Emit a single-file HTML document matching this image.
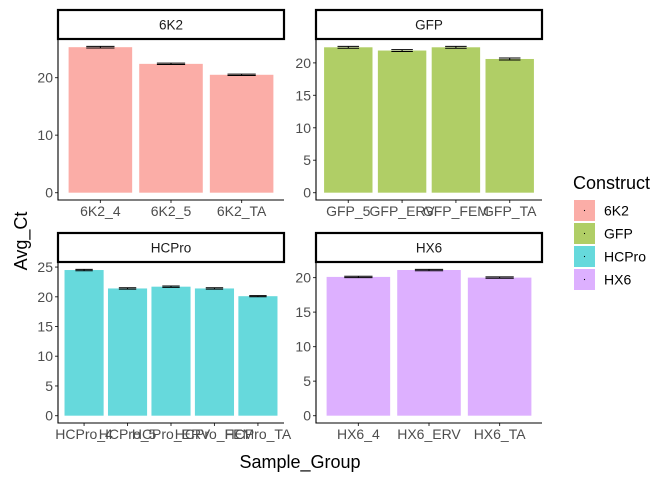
<!DOCTYPE html>
<html><head><meta charset="utf-8"><style>
body{margin:0;background:#fff;}
svg text{font-family:"Liberation Sans",Arial,sans-serif;}
</style></head><body>
<svg id="c" width="672" height="480" xmlns="http://www.w3.org/2000/svg"></svg>
<script>
const panelNames=["6K2","GFP","HCPro","HX6"];
const cats6K2=["6K2_4","6K2_5","6K2_TA"];
const vals6K2=[25.3,22.4,20.5];
const errs6K2=[0.15,0.12,0.12];
const catsGFP=["GFP_5","GFP_ERV","GFP_FEM","GFP_TA"];
const valsGFP=[22.4,21.9,22.4,20.6];
const errsGFP=[0.15,0.15,0.15,0.15];
const catsHCPro=["HCPro_4","HCPro_5","HCPro_ERV","HCPro_FEM","HCPro_TA"];
const valsHCPro=[24.5,21.4,21.7,21.4,20.1];
const errsHCPro=[0.12,0.12,0.12,0.12,0.1];
const catsHX6=["HX6_4","HX6_ERV","HX6_TA"];
const valsHX6=[20.1,21.1,20.0];
const errsHX6=[0.1,0.1,0.1];
const ticks6K2=[0,10,20];
const ticksGFP=[0,5,10,15,20];
const ticksHCPro=[0,5,10,15,20,25];
const ticksHX6=[0,5,10,15,20];
const colors=["#F8766D","#7CAE00","#00BFC4","#C77CFF"];

const svg=document.getElementById('c');
const NS="http://www.w3.org/2000/svg";
function mk(t,a,p){const e=document.createElementNS(NS,t);for(const k in a)e.setAttribute(k,a[k]);(p||svg).appendChild(e);return e;}

const panels=[
 {cats:cats6K2,vals:vals6K2,errs:errs6K2,ticks:ticks6K2,x0:58,x1:284,y0:39,y1:200,st:10},
 {cats:catsGFP,vals:valsGFP,errs:errsGFP,ticks:ticksGFP,x0:316,x1:542,y0:39,y1:200,st:10},
 {cats:catsHCPro,vals:valsHCPro,errs:errsHCPro,ticks:ticksHCPro,x0:58,x1:284,y0:262,y1:423,st:233},
 {cats:catsHX6,vals:valsHX6,errs:errsHX6,ticks:ticksHX6,x0:316,x1:542,y0:262,y1:423,st:233}
];
panels.forEach((p,i)=>{
  const g=mk('g',{});
  
  
  let ymax=0;p.vals.forEach((v,j)=>{ymax=Math.max(ymax,v+p.errs[j]);});
  const lo=-0.05*ymax,hi=1.05*ymax;
  const y=v=>p.y1-(v-lo)/(hi-lo)*(p.y1-p.y0);
  const n=p.cats.length;const u=(p.x1-p.x0)/(n-1+1.2);
  const x=j=>p.x0+(0.6+j)*u;
  const s=mk('rect',{x:p.x0,y:p.st,width:p.x1-p.x0,height:p.y0-p.st,fill:'#fff',stroke:'#000','stroke-width':2.2},g);
  
  
  const stt=mk('text',{x:(p.x0+p.x1)/2,y:(p.st+p.y0)/2+5,'text-anchor':'middle','font-size':13.5,fill:'#1a1a1a'},g);stt.textContent=panelNames[i];
  
  
  p.vals.forEach((v,j)=>{
    const b=mk('rect',{x:x(j)-0.45*u,y:y(v),width:0.9*u,height:y(0)-y(v),fill:colors[i],'fill-opacity':0.6},g);
    
    
    const e=p.errs[j];
    const eb=mk('path',{d:`M${x(j)-0.2*u},${y(v+e)}H${x(j)+0.2*u}M${x(j)},${y(v+e)}V${y(v-e)}M${x(j)-0.2*u},${y(v-e)}H${x(j)+0.2*u}`,stroke:'#000','stroke-width':1,fill:'none'},g);
    
    
    mk('line',{x1:x(j),x2:x(j),y1:p.y1,y2:p.y1+3,stroke:'#333'},g);
    const t=mk('text',{x:x(j),y:p.y1+16,'text-anchor':'middle','font-size':14,fill:'#4d4d4d'},g);t.textContent=p.cats[j];
    
    
  });
  p.ticks.forEach(tv=>{
    mk('line',{x1:p.x0-3,x2:p.x0,y1:y(tv),y2:y(tv),stroke:'#333'},g);
    const t=mk('text',{x:p.x0-5,y:y(tv)+5,'text-anchor':'end','font-size':14,fill:'#4d4d4d'},g);t.textContent=tv;
    
    
  });
  mk('path',{d:`M${p.x0},${p.y0}V${p.y1}H${p.x1}`,stroke:'#000','stroke-width':1.1,fill:'none'},g);
});
const yt=mk('text',{x:0,y:0,transform:'translate(27,241) rotate(-90)','text-anchor':'middle','font-size':18,fill:'#000'});yt.textContent='Avg_Ct';


const xt=mk('text',{x:300,y:468,'text-anchor':'middle','font-size':18,fill:'#000'});xt.textContent='Sample_Group';


const lt=mk('text',{x:573,y:189,'font-size':18,fill:'#000'});lt.textContent='Construct';


panelNames.forEach((n,i)=>{
  const g=mk('g',{});
  
  
  const yy=200+i*23;
  mk('rect',{x:574,y:yy,width:21,height:21,fill:colors[i],'fill-opacity':0.6},g);
  mk('circle',{cx:584.5,cy:yy+10.5,r:0.6,fill:'#000'},g);
  const t=mk('text',{x:604,y:yy+15.5,'font-size':14,fill:'#000'},g);t.textContent=n;
});
</script>
</body></html>
